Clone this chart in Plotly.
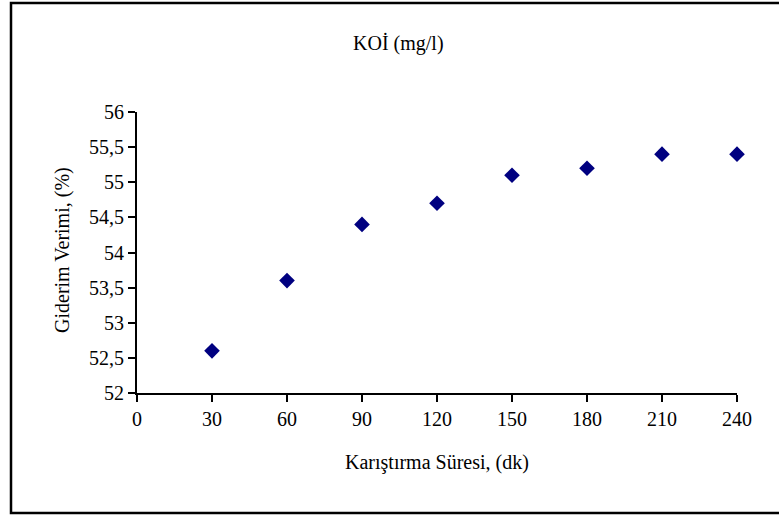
import plotly.graph_objects as go

sure = [30, 60, 90, 120, 150, 180, 210, 240]
verim = [52.6, 53.6, 54.4, 54.7, 55.1, 55.2, 55.4, 55.4]
x_ticks = [0, 30, 60, 90, 120, 150, 180, 210, 240]
y_ticks = [52, 52.5, 53, 53.5, 54, 54.5, 55, 55.5, 56]
y_labels = ["52", "52,5", "53", "53,5", "54", "54,5", "55", "55,5", "56"]

W, H = 779, 515
L, R, T, B = 137, 42, 112, 122
pw, ph = W - L - R, H - T - B

def px(x):
    return (x - L) / pw

def py(y):
    return (H - B - y) / ph

FONT = "Liberation Serif"

fig = go.Figure()
fig.add_trace(go.Scatter(
    x=sure, y=verim, mode="markers",
    marker=dict(symbol="diamond", size=12, color="#000080",
                line=dict(width=0)),
    showlegend=False, cliponaxis=False,
))

fig.update_layout(
    width=W, height=H,
    margin=dict(l=L, r=R, t=T, b=B),
    paper_bgcolor="white", plot_bgcolor="white",
    font=dict(family=FONT, size=20, color="black"),
    xaxis=dict(range=[0, 240], tickvals=x_ticks, ticktext=[str(v) for v in x_ticks],
               showgrid=False, zeroline=False, showline=True, linecolor="black",
               linewidth=2, ticks="outside", ticklen=7, tickwidth=2, tickcolor="black",
               tickfont=dict(family=FONT, size=20)),
    yaxis=dict(range=[52, 56], tickvals=y_ticks, ticktext=y_labels,
               showgrid=False, zeroline=False, showline=True, linecolor="black",
               linewidth=2, ticks="outside", ticklen=7, tickwidth=2, tickcolor="black",
               tickfont=dict(family=FONT, size=20)),
    annotations=[
        dict(text="KOİ (mg/l)", xref="paper", yref="paper", x=px(398), y=py(43),
             showarrow=False, xanchor="center", yanchor="middle",
             font=dict(family=FONT, size=20)),
        dict(text="Karıştırma Süresi, (dk)", xref="paper", yref="paper", x=px(437), y=py(462),
             showarrow=False, xanchor="center", yanchor="middle",
             font=dict(family=FONT, size=20)),
        dict(text="Giderim Verimi, (%)", xref="paper", yref="paper", x=px(62), y=py(250),
             showarrow=False, xanchor="center", yanchor="middle", textangle=-90,
             font=dict(family=FONT, size=20)),
    ],
    shapes=[
        dict(type="rect", xref="paper", yref="paper",
             x0=px(11), x1=px(790), y0=py(513), y1=py(3),
             line=dict(color="black", width=2.5), fillcolor="rgba(0,0,0,0)", layer="below"),
    ],
)

fig.write_html("out.html")
